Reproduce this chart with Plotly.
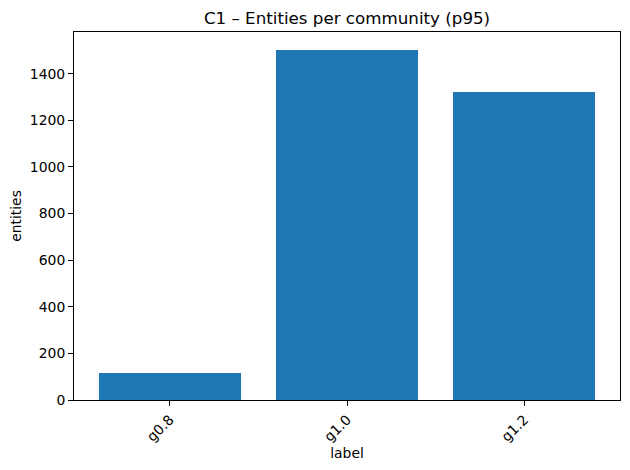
import plotly.graph_objects as go

labels = ["g0.8", "g1.0", "g1.2"]
entities = [114, 1503, 1320]

fig = go.Figure()
fig.add_trace(go.Bar(
    x=list(range(len(labels))), y=entities,
    marker=dict(color="#1f77b4", line=dict(width=0)),
    width=0.8,
))

font = "DejaVu Sans"
fig.update_layout(
    width=630, height=470,
    margin=dict(l=74, r=10, t=32, b=70, autoexpand=False),
    paper_bgcolor="white", plot_bgcolor="white",
    showlegend=False,
    font=dict(family=font, size=13.9, color="black"),
    title=dict(text="C1 – Entities per community (p95)", x=0.5, xref="paper",
               xanchor="center", y=1, yref="paper", yanchor="bottom",
               pad=dict(b=8), font=dict(size=16.7, family=font, color="black"),
               automargin=False),
    bargap=0,
)
fig.update_xaxes(
    range=[-0.54, 2.54], tickmode="array", tickvals=list(range(len(labels))),
    ticktext=labels, tickangle=-45, automargin=False,
    showline=True, linecolor="black", linewidth=1, mirror=True,
    ticks="outside", ticklen=5, tickcolor="black", tickwidth=1,
    showgrid=False, zeroline=False,
    title=dict(text="label", font=dict(size=13.9, family=font), standoff=4),
)
fig.update_yaxes(
    range=[0, 1579], tickmode="array", tickvals=[0, 200, 400, 600, 800, 1000, 1200, 1400],
    showline=True, linecolor="black", linewidth=1, mirror=True, automargin=False,
    ticks="outside", ticklen=5, tickcolor="black", tickwidth=1,
    showgrid=False, zeroline=False,
    title=dict(text="entities", font=dict(size=13.9, family=font), standoff=4),
)
fig.write_html("out.html", config={"displayModeBar": False},
               post_script="document.body.style.margin='0px';")
